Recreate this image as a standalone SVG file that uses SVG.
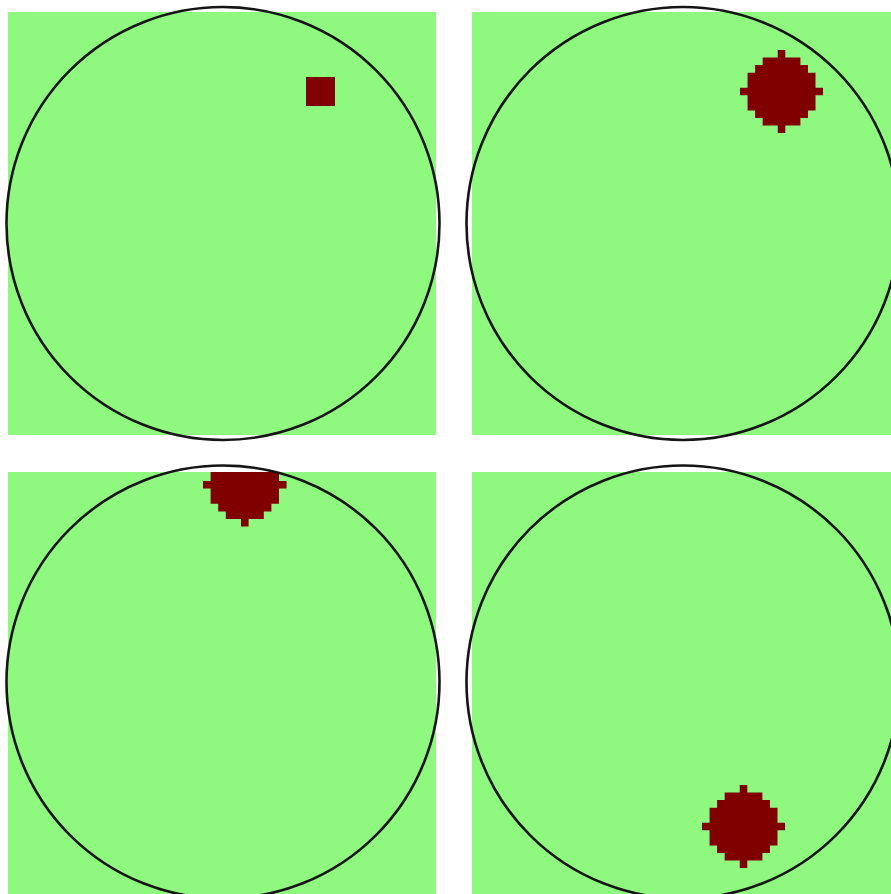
<svg xmlns="http://www.w3.org/2000/svg" width="891" height="894" viewBox="0 0 891 894">
<style>
.bg{fill:#8ff97f}
.ring{fill:none;stroke:#151515;stroke-width:2.6}
.blob{fill:#800000}
</style>
<defs>
<path id="blob" d="M5,0H6V1H8V2H9V3H10V5H11V6H10V8H9V9H8V10H6V11H5V10H3V9H2V8H1V6H0V5H1V3H2V2H3V1H5Z"/>
<clipPath id="clip3"><rect x="8" y="472" width="428" height="422"/></clipPath>
</defs>
<rect width="891" height="894" fill="#ffffff"/>
<g id="panel1">
<rect class="bg" x="8" y="12" width="428" height="423"/>
<rect class="blob" x="306" y="77" width="29" height="29"/>
<circle class="ring" cx="223" cy="223.5" r="216.5"/>
</g>
<g id="panel2">
<rect class="bg" x="472" y="12" width="419" height="423"/>
<use class="blob" href="#blob" transform="translate(740,50) scale(7.55)"/>
<circle class="ring" cx="683" cy="223.5" r="216.5"/>
</g>
<g id="panel3">
<rect class="bg" x="8" y="472" width="428" height="422"/>
<g clip-path="url(#clip3)"><use class="blob" href="#blob" transform="translate(203,443) scale(7.6)"/></g>
<circle class="ring" cx="223" cy="682" r="216.5"/>
</g>
<g id="panel4">
<rect class="bg" x="472" y="472" width="419" height="422"/>
<use class="blob" href="#blob" transform="translate(702,785) scale(7.55)"/>
<circle class="ring" cx="683" cy="682" r="216.5"/>
</g>
</svg>
